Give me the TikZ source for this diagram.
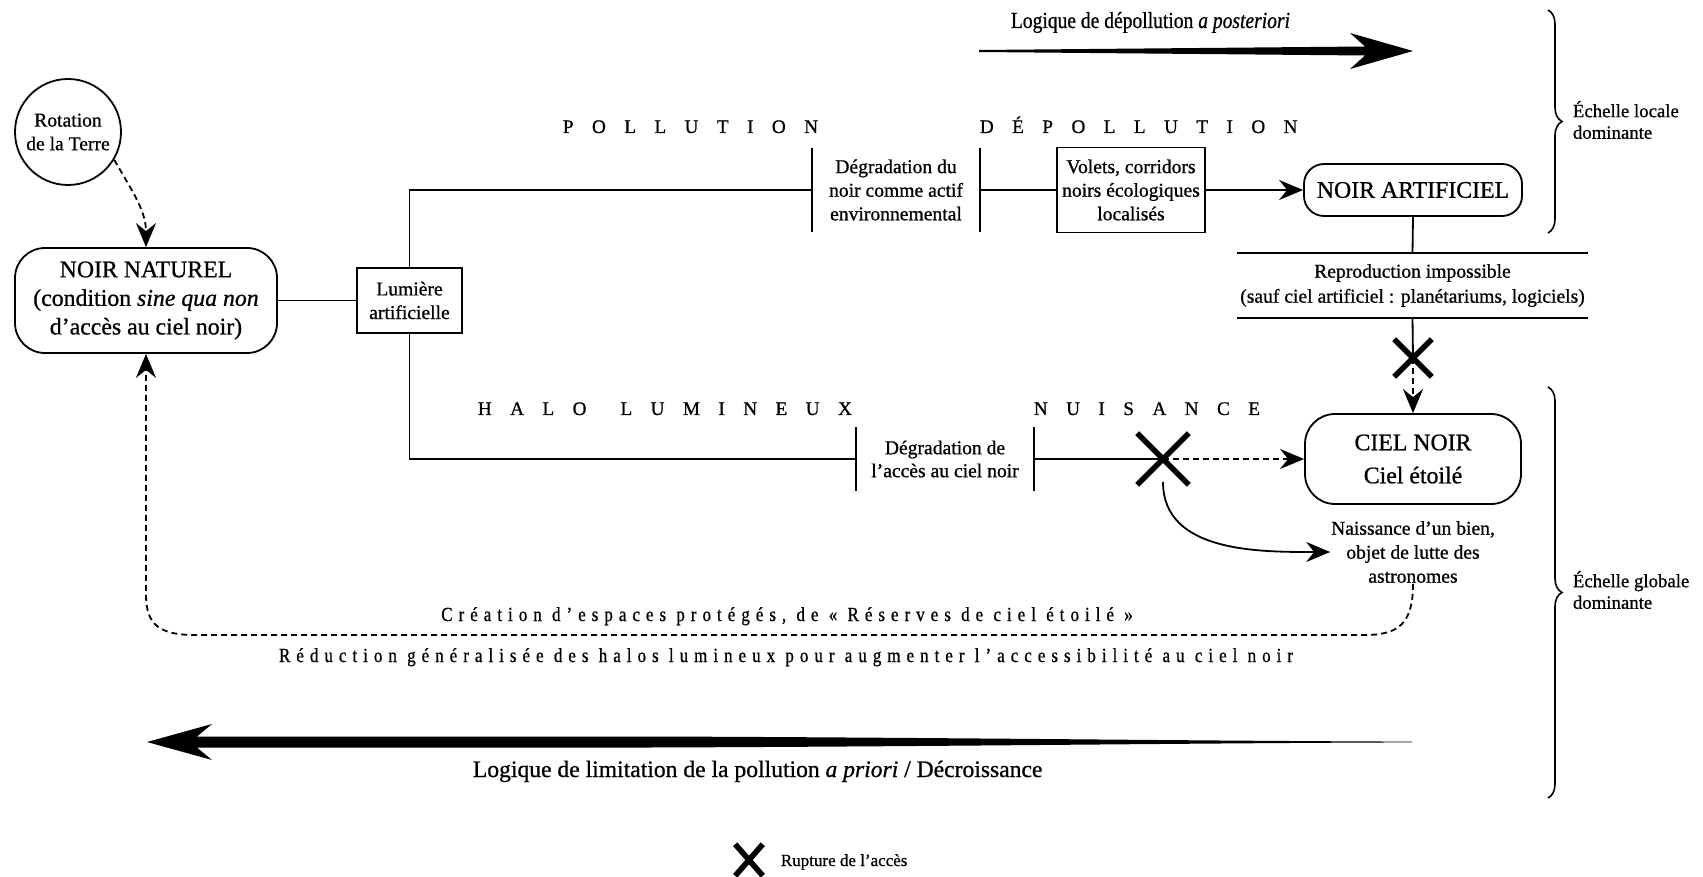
\documentclass[tikz,border=0pt]{standalone}
\usepackage{fontspec}
\setmainfont{Liberation Serif}[FakeBold=0.8]
\newfontfamily\narrowserif{Liberation Serif}[FakeStretch=0.85, FakeBold=0.8]
\newfontfamily\widecaps{Liberation Serif}[LetterSpace=96, FakeBold=0.8]
\newfontfamily\trackfont{Liberation Serif}[LetterSpace=30, FakeStretch=0.85, FakeBold=0.8]
\usetikzlibrary{arrows.meta,shapes.misc,decorations.pathreplacing}

\tikzset{
  txt/.style={font=\fontsize{9.8}{11.8}\selectfont, align=center},
  bigtxt/.style={font=\fontsize{11.9}{14.3}\selectfont, align=center},
  pill/.style={draw, rounded corners=15pt, bigtxt, inner sep=2pt},
  framebox/.style={draw, txt, inner sep=2pt},
  plain/.style={txt, inner sep=0pt},
  tip/.style={-{Stealth[length=12pt,width=10pt,inset=4pt]}},
  dashline/.style={dash pattern=on 3pt off 2pt},
  crossmark/.style={cross out, draw, line width=2.8pt, inner sep=0pt},
  spaced/.style={font=\widecaps\fontsize{9.6}{11}\selectfont, inner sep=0pt, anchor=base west},
  tracked/.style={font=\trackfont\fontsize{10}{11}\selectfont, inner sep=0pt, anchor=base},
  logic/.style={font=\fontsize{11.8}{13}\selectfont, inner sep=0pt, anchor=base west},
  scale label/.style={font=\fontsize{9.4}{10.8}\selectfont, align=left, inner sep=0pt, anchor=west},
  scalebrace/.style={decorate, decoration={brace, amplitude=7pt}, line width=0.8pt},
}

\begin{document}
\begin{tikzpicture}[x=0.5pt, y=-0.5pt, line width=0.9pt]
\useasboundingbox (0,0) rectangle (1703,877);

% ---------- nodes ----------
\node[circle, draw, txt, minimum size=53pt, inner sep=0pt] (rot) at (68,132) {Rotation\\de la Terre};
\node[pill, minimum width=131pt, minimum height=52.5pt] (nn) at (146,300.5)
  {NOIR NATUREL\\(condition \textit{sine qua non}\\d’accès au ciel noir)};
\node[framebox, minimum width=52.5pt, minimum height=32.5pt] (lum) at (409.5,300.5) {Lumière\\artificielle};

\node[plain, minimum width=83pt, minimum height=41pt] (deg1) at (896,190)
  {Dégradation du\\noir comme actif\\environnemental};
\node[framebox, minimum width=74pt, minimum height=42.5pt] (volets) at (1131,190)
  {Volets, corridors\\noirs écologiques\\localisés};
\node[pill, rounded corners=10pt, minimum width=109pt, minimum height=26pt] (na) at (1413,190) {NOIR ARTIFICIEL};

\node[plain, font=\fontsize{9.8}{12.5}\selectfont, minimum width=174.5pt, minimum height=31.5pt] (repro) at (1412.5,285.5)
  {Reproduction impossible\\(sauf ciel artificiel : planétariums, logiciels)};

\node[pill, font=\fontsize{11.9}{16.5}\selectfont, minimum width=108pt, minimum height=45pt] (ciel) at (1413,459)
  {CIEL NOIR\\Ciel étoilé};
\node[plain, font=\fontsize{9.8}{11.5}\selectfont, minimum width=88pt, minimum height=31pt] (deg2) at (945,459)
  {Dégradation de\\l’accès au ciel noir};
\node[plain, font=\fontsize{9.8}{12}\selectfont] (naiss) at (1413,552)
  {Naissance d’un bien,\\objet de lutte des\\astronomes};

% crossing points
\coordinate (xh) at (1163,459);
\coordinate (xhb) at (1163,482);
\coordinate (xv) at (1413,358);

% ---------- connectors ----------
\draw[dashline, tip] (rot.-31) to[out=-60, in=90] (nn.north);
\draw (nn.east) -- (lum.west);
\draw (lum.north) |- (deg1.west);
\draw (deg1.north west) -- (deg1.south west);
\draw (deg1.north east) -- (deg1.south east);
\draw (deg1.east) -- (volets.west);
\draw[tip] (volets.east) -- (na.west);

\draw (na.south) -- (repro.north);
\draw (repro.north west) -- (repro.north east);
\draw (repro.south west) -- (repro.south east);
\draw (repro.south) -- (xv);
\draw[dashline, tip] (xv) -- (ciel.north);

\draw (lum.south) |- (deg2.west);
\draw (deg2.north west) -- (deg2.south west);
\draw (deg2.north east) -- (deg2.south east);
\draw (deg2.east) -- (xh);
\draw[dashline, tip] (xh) -- (ciel.west);
\draw[tip] (xhb) to[out=-90, in=180] (naiss.west);

\draw[dashline, tip] (naiss.south) .. controls (1413,622) and (1400,635) .. (1365,635)
  -- (195,635) .. controls (160,635) and (146,625) .. (146,595) -- (nn.south);

% ---------- access ruptures ----------
\node[crossmark, minimum width=23pt, minimum height=23pt] (xhm) at (xh) {};
\node[crossmark, minimum width=16pt, minimum height=16pt] (xvm) at (xv) {};

% ---------- spaced headings ----------
\node[spaced] (lpol) at (562,133) {POLLUTION};
\node[spaced] (ldep) at (979,133) {DÉPOLLUTION};
\node[spaced] (lhalo) at (477,415) {HALO\hspace{17pt}LUMINEUX};
\node[spaced] (lnuis) at (1033,415) {NUISANCE};

\node[tracked] (lcrea) at (787,621) {Création d’espaces protégés, de « Réserves de ciel étoilé »};
\node[tracked] (lredu) at (786,662) {Réduction généralisée des halos lumineux pour augmenter l’accessibilité au ciel noir};

% ---------- large logic arrows ----------
\fill (979,50) -- (1365,46.5) -- (1350,33) -- (1413,51) -- (1350,69) -- (1365,55.5) -- (979,52) -- cycle;
\node[logic, font=\narrowserif\fontsize{11.5}{13}\selectfont] (ltop) at (1010,28) {Logique de dépollution \textit{a posteriori}};

\fill (147,742) -- (212,724) -- (197,736.5) -- (650,736.5)
  .. controls (950,737.5) and (1200,741) .. (1412,741.6) -- (1412,742.4)
  .. controls (1200,743) and (950,746.5) .. (650,747.5) -- (197,747.5) -- (212,760) -- cycle;
\node[logic] (lbot) at (472,777) {Logique de limitation de la pollution \textit{a priori} / Décroissance};

% ---------- scales ----------
\draw[scalebrace] (1548,10) -- (1548,233);
\node[scale label] (eloc) at (1572,120) {Échelle locale\\dominante};
\draw[scalebrace] (1548,387) -- (1548,798);
\node[scale label] (eglo) at (1572,590) {Échelle globale\\dominante};

% ---------- legend ----------
\node[crossmark, minimum width=11pt, minimum height=13pt] (xl) at (749,860) {};
\node[font=\fontsize{8.5}{10}\selectfont, inner sep=0pt, anchor=base west] (lrup) at (780,866) {Rupture de l’accès};
\end{tikzpicture}
\end{document}
